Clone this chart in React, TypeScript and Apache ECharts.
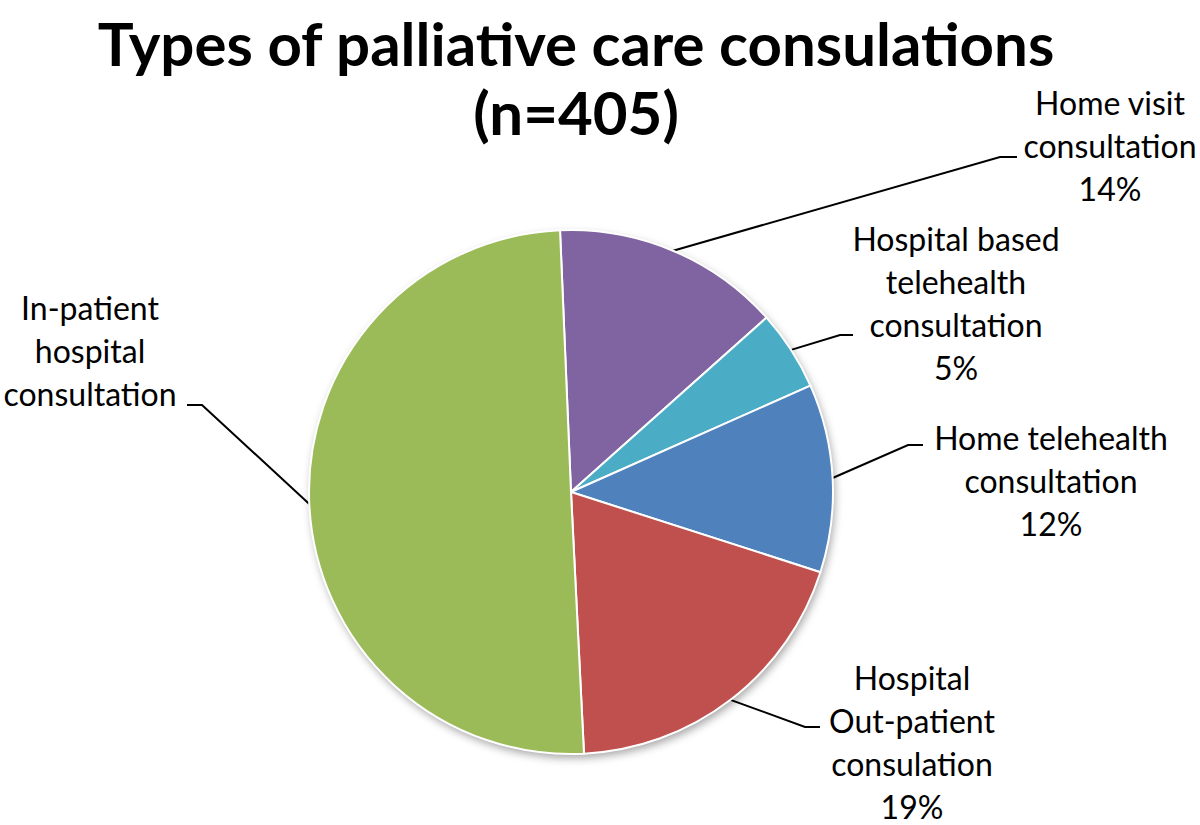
import React, { useEffect, useRef } from "react";
import * as echarts from "echarts";

const categories = [
  "Home visit consultation",
  "Hospital based telehealth consultation",
  "Home telehealth consultation",
  "Hospital Out-patient consulation",
  "In-patient hospital consultation",
];
const labelLines = [
  "Home visit\nconsultation",
  "Hospital based\ntelehealth\nconsultation",
  "Home telehealth\nconsultation",
  "Hospital\nOut-patient\nconsulation",
  "In-patient\nhospital\nconsultation",
];
const counts = [57, 20, 47, 78, 203];
const showPercent = [true, true, true, true, false];
const colors = ["#8064A2", "#4BACC6", "#4F81BD", "#C0504D", "#9BBB59"];

// label layout (text block centres and leader-line elbows), in page pixels
const labelCenters = [
  [1110, 145],
  [956, 303],
  [1051, 480],
  [912, 742],
  [90, 350],
];
const leaderElbows = [
  [[1000, 157], [1017, 157]],
  [[840, 335], [853, 335]],
  [[908, 445], [923, 445]],
  [[805, 727], [820, 727]],
  [[202, 405], [187, 405]],
];

const FONT = "Lato, 'Open Sans', sans-serif";

export default function App() {
  const ref = useRef<HTMLDivElement>(null);
  useEffect(() => {
    if (!ref.current) return;
    const chart = echarts.init(ref.current, undefined, { renderer: "svg" });
    const data = categories.map((name, i) => ({
      name,
      value: counts[i],
      itemStyle: { color: colors[i] },
    }));
    chart.setOption({
      animation: false,
      backgroundColor: "#ffffff",
      title: {
        text: "Types of palliative care consulations\n(n=405)",
        left: 571,
        top: 3,
        textAlign: "center",
        textStyle: {
          fontFamily: FONT,
          fontWeight: "bold",
          fontSize: 60,
          lineHeight: 69,
          color: "#000",
        },
      },
      series: [
        {
          type: "pie",
          silent: true,
          center: [571, 492],
          radius: 262,
          startAngle: 92.4,
          z: 1,
          label: { show: false },
          labelLine: { show: false },
          itemStyle: {
            color: "#ffffff",
            shadowBlur: 8,
            shadowOffsetX: 2,
            shadowOffsetY: 4,
            shadowColor: "rgba(0,0,0,0.35)",
          },
          data: [{ name: "shadow", value: 1 }],
        },
        {
          type: "pie",
          center: [571, 492],
          radius: 262,
          startAngle: 92.4,
          clockwise: true,
          avoidLabelOverlap: false,
          z: 2,
          itemStyle: { borderColor: "#ffffff", borderWidth: 2 },
          label: {
            show: true,
            position: "outside",
            fontFamily: FONT,
            fontSize: 32,
            lineHeight: 43,
            color: "#000",
            align: "center",
            formatter: (p: any) => {
              const i = p.dataIndex;
              const txt = labelLines[i];
              return showPercent[i] ? txt + "\n" + Math.round(p.percent) + "%" : txt;
            },
          },
          labelLine: {
            show: true,
            length: 20,
            length2: 10,
            lineStyle: { color: "#000", width: 2 },
          },
          labelLayout: (params: any) => {
            const i = params.dataIndex;
            const start = params.labelLinePoints ? params.labelLinePoints[0] : [0, 0];
            return {
              x: labelCenters[i][0],
              y: labelCenters[i][1],
              align: "center",
              verticalAlign: "middle",
              labelLinePoints: [start, leaderElbows[i][0], leaderElbows[i][1]],
            };
          },
          data,
        },
      ],
    });
    return () => chart.dispose();
  }, []);
  return (
    <div
      ref={ref}
      style={{ position: "fixed", left: 0, top: 0, width: 1200, height: 825 }}
    />
  );
}
